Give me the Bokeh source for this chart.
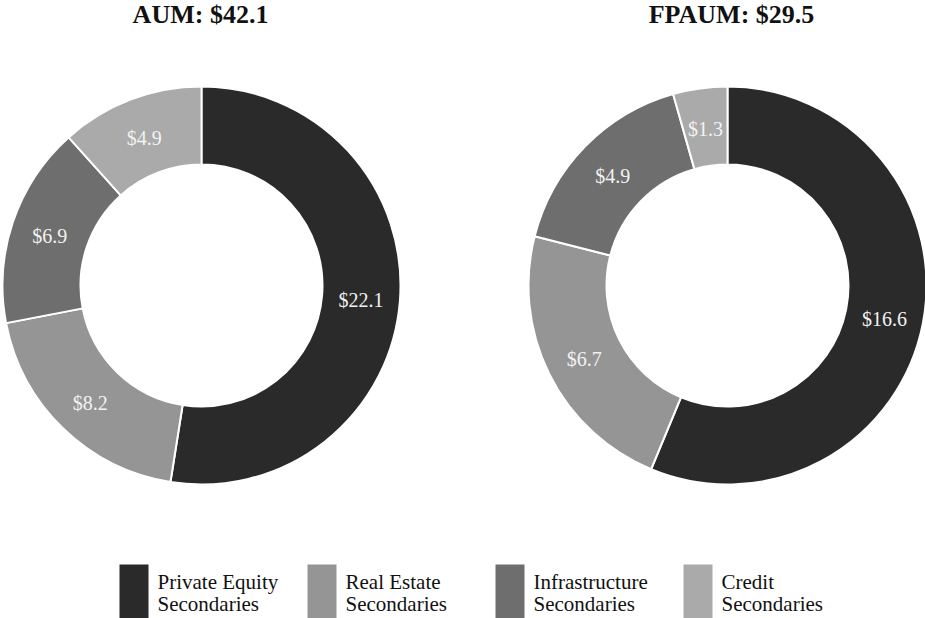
import numpy as np
from bokeh.plotting import figure
from bokeh.models import Range1d, ColumnDataSource
from bokeh.core.properties import value
from bokeh.embed import file_html
from bokeh.resources import INLINE

# ---- data ----
categories = ["Private Equity Secondaries", "Real Estate Secondaries",
              "Infrastructure Secondaries", "Credit Secondaries"]
legend_line1 = ["Private Equity", "Real Estate", "Infrastructure", "Credit"]
legend_line2 = ["Secondaries", "Secondaries", "Secondaries", "Secondaries"]
aum_values = [22.1, 8.2, 6.9, 4.9]
fpaum_values = [16.6, 6.7, 4.9, 1.3]
titles = ["AUM: $42.1", "FPAUM: $29.5"]
colors = ["#2a2a2a", "#959595", "#6e6e6e", "#aaaaaa"]

# ---- layout (page pixel coordinates; data y = 618 - pixel y) ----
W, H = 925, 618
def py(y):
    return H - y

p = figure(width=W, height=H, output_backend="svg", toolbar_location=None,
           x_range=Range1d(0, W), y_range=Range1d(0, H),
           x_axis_type=None, y_axis_type=None, min_border=0)
p.outline_line_color = None
p.grid.visible = False
p.background_fill_color = "white"
p.border_fill_color = "white"

FONT = value("Liberation Serif")
R_IN, R_OUT = 121, 199
centers = [(201, 285), (727, 285)]
title_x = [200, 731]

for vals, (cx, cy), title, tx in zip([aum_values, fpaum_values], centers, titles, title_x):
    v = np.array(vals, dtype=float)
    frac = v / v.sum()
    cum = np.concatenate([[0.0], np.cumsum(frac)])
    start = np.pi / 2 - cum[:-1] * 2 * np.pi
    end = np.pi / 2 - cum[1:] * 2 * np.pi
    mid = np.pi / 2 - (cum[:-1] + cum[1:]) / 2 * 2 * np.pi
    r_mid = (R_IN + R_OUT) / 2
    src = ColumnDataSource(dict(
        start=start, end=end, color=colors,
        lx=cx + r_mid * np.cos(mid), ly=py(cy) + r_mid * np.sin(mid) - 2,
        label=["$%.1f" % x for x in vals],
    ))
    p.annular_wedge(x=cx, y=py(cy), inner_radius=R_IN, outer_radius=R_OUT,
                    start_angle="start", end_angle="end", direction="clock",
                    fill_color="color", line_color="white", line_width=2, source=src)
    p.text(x="lx", y="ly", text="label", source=src, text_font=FONT,
           text_font_size="20px", text_color="#f2f2f2",
           text_align="center", text_baseline="middle")
    p.text(x=[tx], y=[py(14)], text=[title], text_font=FONT, text_font_size="26px",
           text_font_style="bold", text_color="#111111",
           text_align="center", text_baseline="alphabetic")

# ---- legend ----
leg_left = [119 + 188 * i for i in range(len(categories))]
leg_src = ColumnDataSource(dict(
    left=leg_left, right=[l + 29 for l in leg_left],
    top=[py(564)] * 4, bottom=[py(622)] * 4, color=colors,
    tx=[l + 38 for l in leg_left], l1=legend_line1, l2=legend_line2,
    y1=[py(581)] * 4, y2=[py(603)] * 4,
))
p.quad(left="left", right="right", top="top", bottom="bottom", fill_color="color",
       line_color=None, source=leg_src)
p.text(x="tx", y="y1", text="l1", source=leg_src, text_font=FONT, text_font_size="21px",
       text_color="#111111", text_align="left", text_baseline="alphabetic")
p.text(x="tx", y="y2", text="l2", source=leg_src, text_font=FONT, text_font_size="21px",
       text_color="#111111", text_align="left", text_baseline="alphabetic")

open("out.html", "w").write(file_html(p, INLINE))
